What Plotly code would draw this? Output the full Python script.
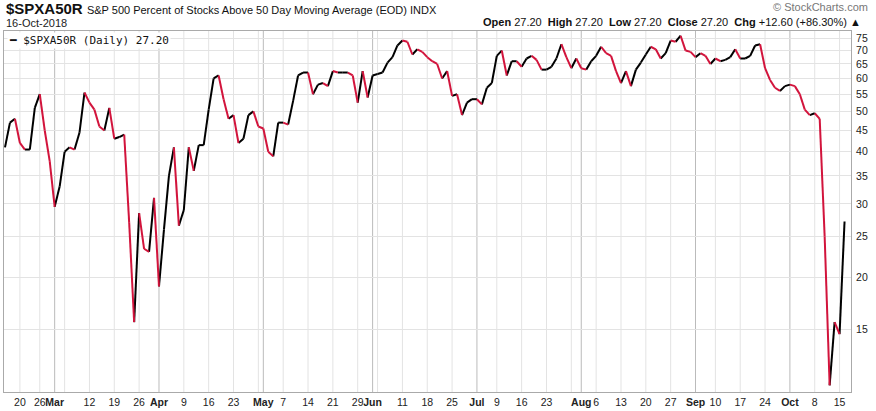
import pandas as pd
import numpy as np
import plotly.graph_objects as go

holidays = ["2018-02-19", "2018-03-30", "2018-05-28", "2018-07-04", "2018-09-03"]
dates = [d for d in pd.bdate_range("2018-02-14", "2018-10-16") if d.strftime("%Y-%m-%d") not in holidays]

values = [41, 47, 48, 42, 40.5, 40.5, 51, 55, 45, 38, 29.5, 33, 40, 41, 40.5, 44.5, 55.5,
          52.5, 50.5, 46, 45, 51, 43, 43.4, 44, 27, 15.6, 28.5, 23.4, 23, 31,
          19, 26, 35, 41, 26.6, 29, 41, 36, 41.5, 41.5, 50.5, 60, 61, 53.5, 48,
          49, 42, 43, 49, 50, 46, 45.5, 40, 39, 47, 47, 46.5, 53, 61, 62,
          62, 55, 58, 58.5, 57.5, 62.5, 62, 62, 62, 61, 52.5, 62.5, 54, 61,
          61.5, 62, 65.5, 67.5, 72, 74, 73.5, 68.5, 70.5, 69.5, 67.5, 66, 65, 60, 62.5,
          54.5, 55, 49, 52.5, 53.5, 53.5, 52, 57, 58.5, 68, 70, 61, 66, 66,
          64, 67, 68, 66.5, 63, 63, 64, 67, 72.5, 67.5, 63.5, 67, 63.5, 63, 66,
          68, 71.5, 69, 68, 62.5, 58.5, 62.5, 57.5, 63, 65.5, 68.5, 71.5, 70.5, 67, 69,
          74, 73.5, 76, 70, 69.5, 67.5, 69, 68, 65, 67, 66, 66.5, 67.5, 70.5,
          67, 67, 68, 72, 72.5, 63.5, 59.5, 57, 56, 57.5, 58, 57.5, 55, 50.5, 49,
          49.5, 48, 25, 11.0, 15.6, 14.6, 27.2]

n = min(len(dates), len(values))
dates = dates[:n]
values = values[:n]

RED = "#d2143c"
ux, uy, dx, dy = [], [], [], []
for i in range(n - 1):
    if values[i + 1] >= values[i]:
        ux += [i, i + 1, None]; uy += [values[i], values[i + 1], None]
    else:
        dx += [i, i + 1, None]; dy += [values[i], values[i + 1], None]

fig = go.Figure()
fig.add_trace(go.Scatter(x=ux, y=uy, mode="lines", line=dict(color="black", width=2), hoverinfo="skip"))
fig.add_trace(go.Scatter(x=dx, y=dy, mode="lines", line=dict(color=RED, width=2), hoverinfo="skip"))

month_idx = [i for i in range(1, n) if dates[i].month != dates[i - 1].month]
week_idx = [i for i in range(1, n) if dates[i].isocalendar()[1] != dates[i - 1].isocalendar()[1]]
tickvals, ticktext = [], []
for i in month_idx:
    tickvals.append(i); ticktext.append("<b>" + dates[i].strftime("%b") + "</b>")
for i in week_idx:
    if all(abs(i - m) > 2 for m in month_idx):
        tickvals.append(i); ticktext.append(str(dates[i].day))

shapes = []
for i in set(tickvals) | set(week_idx):
    shapes.append(dict(type="line", xref="x", yref="paper", x0=i, x1=i, y0=0, y1=1,
                       line=dict(color="#bbbbbb" if i in month_idx else "#e3e3e3", width=1), layer="below"))

yt = [15, 20, 25, 30, 35, 40, 45, 50, 55, 60, 65, 70, 75]
fig.update_layout(
    width=876, height=411, margin=dict(l=3, r=25, t=31, b=16),
    paper_bgcolor="white", plot_bgcolor="white", showlegend=False,
    font=dict(family="Liberation Sans, Arial", size=11, color="#222"),
    xaxis=dict(range=[-0.2, n + 0.3], tickvals=tickvals, ticktext=ticktext, showgrid=False,
               zeroline=False, showline=True, linecolor="#aaa", mirror=True, ticks="",
               tickfont=dict(size=10.5, color="#222")),
    yaxis=dict(type="log", range=[np.log10(10.6), np.log10(78)], side="right", tickvals=yt,
               ticktext=[str(v) for v in yt], showgrid=True, gridcolor="#e3e3e3",
               showline=True, linecolor="#aaa", mirror=True, ticks="", ticklabelstandoff=2,
               tickfont=dict(size=10.5, color="#222")),
    shapes=shapes,
)
ann = [
    dict(x=0.0, y=1.063, xref="paper", yref="paper", xanchor="left", yanchor="middle",
         text="<b>&#36;SPXA50R</b> <span style='font-size:11px'>S&amp;P 500 Percent of Stocks Above 50 Day Moving Average (EOD) INDX</span>",
         font=dict(size=15, color="#111"), showarrow=False),
    dict(x=0.0, y=1.022, xref="paper", yref="paper", xanchor="left", yanchor="middle",
         text="16-Oct-2018", font=dict(size=11, color="#222"), showarrow=False),
    dict(x=1.022, y=1.066, xref="paper", yref="paper", xanchor="right", yanchor="middle",
         text="© StockCharts.com", font=dict(size=11, color="#777"), showarrow=False),
    dict(x=1.014, y=1.026, xref="paper", yref="paper", xanchor="right", yanchor="middle",
         text="<b>Open</b> 27.20  <b>High</b> 27.20  <b>Low</b> 27.20  <b>Close</b> 27.20  <b>Chg</b> +12.60 (+86.30%) ▲",
         font=dict(size=11, color="#111"), showarrow=False),
    dict(x=0.003, y=0.997, xref="paper", yref="paper", xanchor="left", yanchor="top",
         text="<b>━</b> &#36;SPXA50R (Daily) 27.20", font=dict(family="DejaVu Sans Mono", size=11, color="#111"),
         bgcolor="white", showarrow=False),
]
fig.update_layout(annotations=ann)
fig.write_html("out.html", config={"displayModeBar": False},
               post_script="document.body.style.margin='0';document.body.style.overflow='hidden';")
